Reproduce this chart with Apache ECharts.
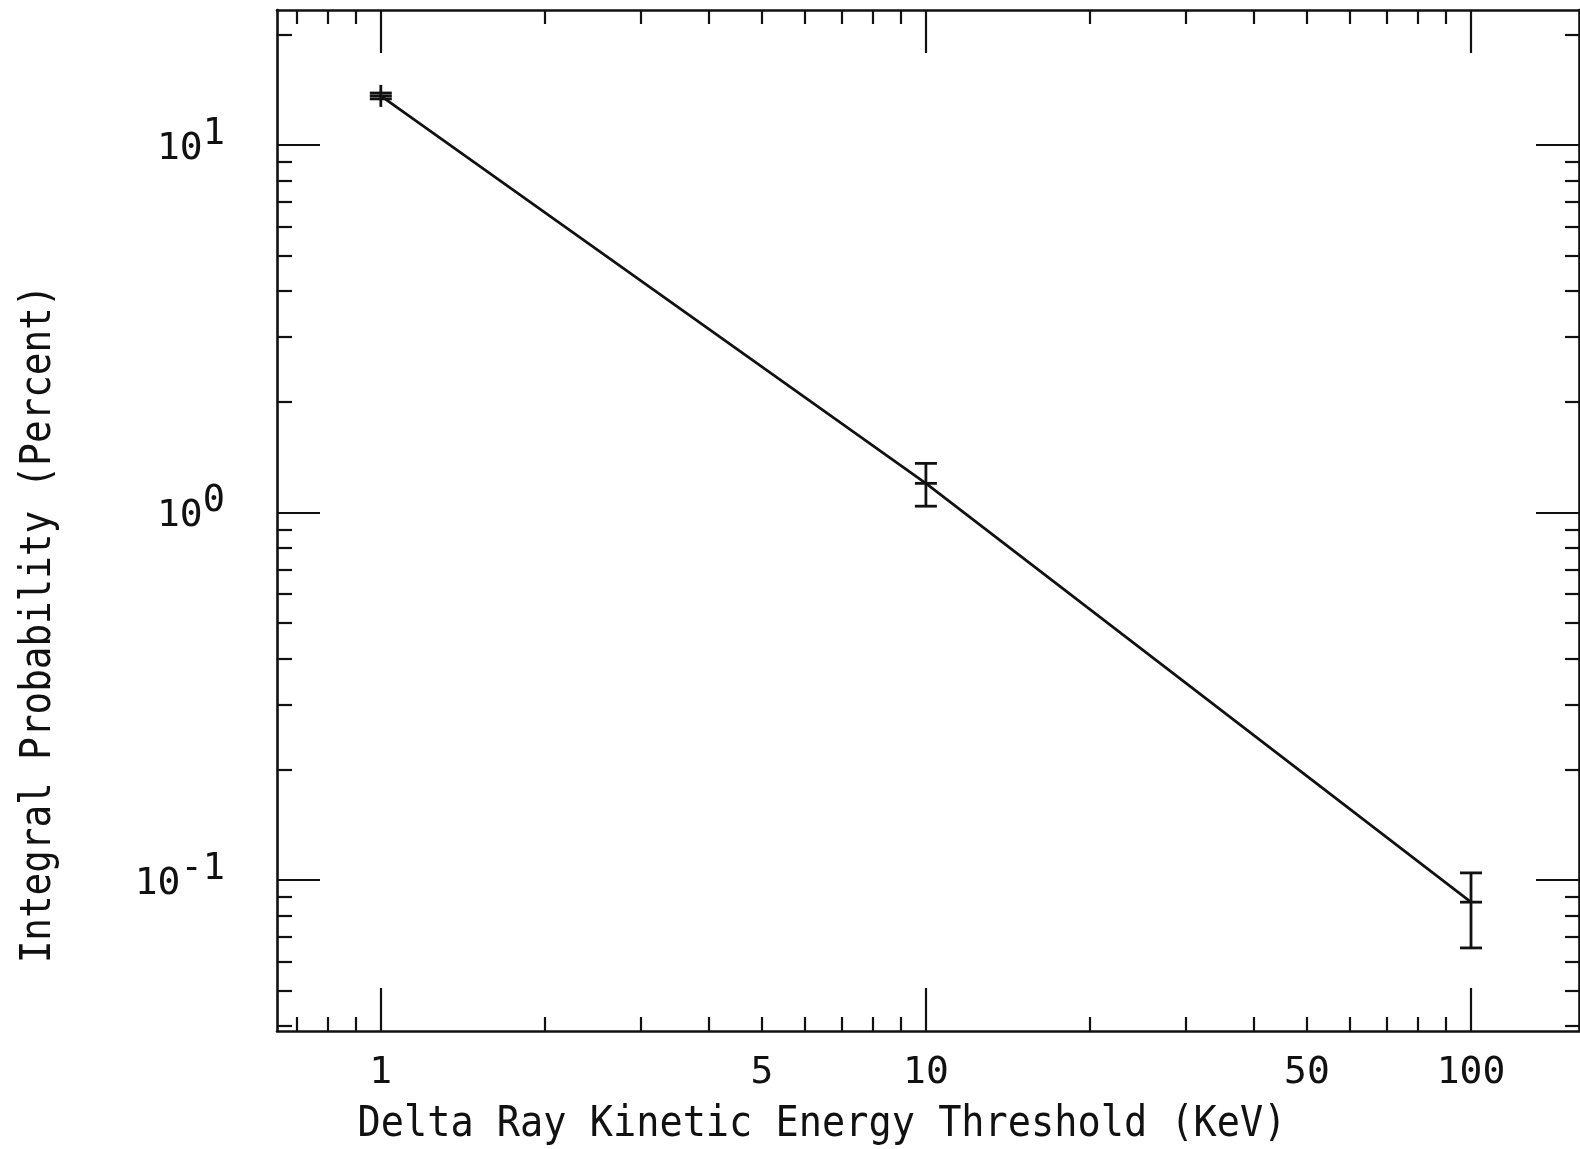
<!DOCTYPE html>
<html>
<head>
<meta charset="utf-8">
<title>Delta Ray Integral Probability</title>
<script src="https://cdn.jsdelivr.net/npm/echarts@6/dist/echarts.min.js"></script>
<style>
  html, body { margin: 0; padding: 0; background: #fff; }
  #chart { width: 1580px; height: 1149px; }
</style>
</head>
<body>
<div id="chart"></div>
<script>
// Measured integral probability (percent) versus delta-ray kinetic energy threshold (keV)
const energy      = [1, 10, 100];
const probability = [13.6, 1.2, 0.087];
const errLow      = [13.35, 1.04, 0.0653];
const errHigh     = [13.85, 1.36, 0.1045];

// Axis ranges
const xRange = [0.645, 157.8];
const yRange = [0.0388, 23.3];

// Tick values and labels
const xMajorTicks = [1, 10, 100];
const xMinorTicks = [0.7, 0.8, 0.9, 2, 3, 4, 5, 6, 7, 8, 9, 20, 30, 40, 50, 60, 70, 80, 90];
const xTickLabels = [1, 5, 10, 50, 100];
const yMajorTicks = [0.1, 1, 10];
const yMinorTicks = [0.04, 0.05, 0.06, 0.07, 0.08, 0.09,
                     0.2, 0.3, 0.4, 0.5, 0.6, 0.7, 0.8, 0.9,
                     2, 3, 4, 5, 6, 7, 8, 9, 20];

const xTitle = 'Delta Ray Kinetic Energy Threshold (KeV)';
const yTitle = 'Integral Probability (Percent)';

const FONT = '"DejaVu Sans Mono", "Liberation Mono", monospace';
const INK = '#111';

function logAxis(dim, position, ticks, len, opts) {
  const range = dim === 'x' ? xRange : yRange;
  return Object.assign({
    type: 'log',
    logBase: 10,
    position: position,
    min: range[0],
    max: range[1],
    axisLine: { show: false, onZero: false },
    axisTick: {
      show: true, inside: true, length: len, customValues: ticks,
      lineStyle: { color: INK, width: 2.2 }
    },
    axisLabel: { show: false },
    splitLine: { show: false },
    minorTick: { show: false },
    axisPointer: { show: false }
  }, opts || {});
}

const frameLine = { show: true, onZero: false, lineStyle: { color: INK, width: 2.6 } };

const xAxes = [
  logAxis('x', 'bottom', xMajorTicks, 43, {
    axisLine: frameLine,
    axisLabel: {
      show: true, customValues: xTickLabels, margin: 23,
      fontFamily: FONT, fontSize: 38, color: INK,
      formatter: v => String(v)
    }
  }),
  logAxis('x', 'bottom', xMinorTicks, 14),
  logAxis('x', 'top', xMajorTicks, 43, { axisLine: frameLine }),
  logAxis('x', 'top', xMinorTicks, 14)
];

// Decade labels on the probability axis: 10 with a raised exponent
const yAxes = [
  logAxis('y', 'left', yMajorTicks, 43, {
    axisLine: frameLine,
    axisLabel: {
      show: true, customValues: yMajorTicks, margin: 52,
      formatter: v => '{b|10}{s|' + Math.round(Math.log10(v)) + '}',
      rich: {
        b: { fontFamily: FONT, fontSize: 38, color: INK, lineHeight: 38,
             verticalAlign: 'middle', padding: [8, 0, 0, 0] },
        s: { fontFamily: FONT, fontSize: 37, color: INK, lineHeight: 37,
             verticalAlign: 'middle', padding: [0, 0, 22, 0] }
      }
    }
  }),
  logAxis('y', 'left', yMinorTicks, 15),
  logAxis('y', 'right', yMajorTicks, 43, { axisLine: frameLine }),
  logAxis('y', 'right', yMinorTicks, 14)
];

// Error bars: vertical whisker, end caps and a centre tick at each point
function renderErrorBar(params, api) {
  const x = api.value(0);
  const c = api.coord([x, api.value(1)]);
  const lo = api.coord([x, api.value(2)]);
  const hi = api.coord([x, api.value(3)]);
  const w = 11;
  const style = { stroke: INK, lineWidth: 2.8, fill: null };
  const seg = (x1, y1, x2, y2) => ({ type: 'line', shape: { x1, y1, x2, y2 }, style });
  return {
    type: 'group',
    children: [
      seg(c[0], Math.min(hi[1], c[1] - w), c[0], Math.max(lo[1], c[1] + w)),
      seg(c[0] - w, hi[1], c[0] + w, hi[1]),
      seg(c[0] - w, lo[1], c[0] + w, lo[1]),
      seg(c[0] - w, c[1], c[0] + w, c[1])
    ]
  };
}

const points = energy.map((e, i) => [e, probability[i]]);
const errorData = energy.map((e, i) => [e, probability[i], errLow[i], errHigh[i]]);

const chart = echarts.init(document.getElementById('chart'), null, { renderer: 'canvas' });
chart.setOption({
  animation: false,
  backgroundColor: '#fff',
  grid: { left: 277, right: 1, top: 10, bottom: 118, containLabel: false },
  xAxis: xAxes,
  yAxis: yAxes,
  series: [
    {
      type: 'line',
      xAxisIndex: 0, yAxisIndex: 0,
      data: points,
      showSymbol: false,
      symbol: 'none',
      lineStyle: { color: INK, width: 2.7 },
      z: 3
    },
    {
      type: 'custom',
      xAxisIndex: 0, yAxisIndex: 0,
      data: errorData,
      encode: { x: 0, y: 1 },
      renderItem: renderErrorBar,
      z: 4
    }
  ],
  graphic: [
    {
      type: 'text', x: 822, y: 1125, scaleY: 1.12,
      style: { text: xTitle, fontFamily: FONT, fontSize: 38.6, fill: INK,
               align: 'center', verticalAlign: 'middle' }
    },
    {
      type: 'text', x: 39, y: 624, rotation: Math.PI / 2, scaleY: 1.12,
      style: { text: yTitle, fontFamily: FONT, fontSize: 37.6, fill: INK,
               align: 'center', verticalAlign: 'middle' }
    }
  ]
});
</script>
</body>
</html>
